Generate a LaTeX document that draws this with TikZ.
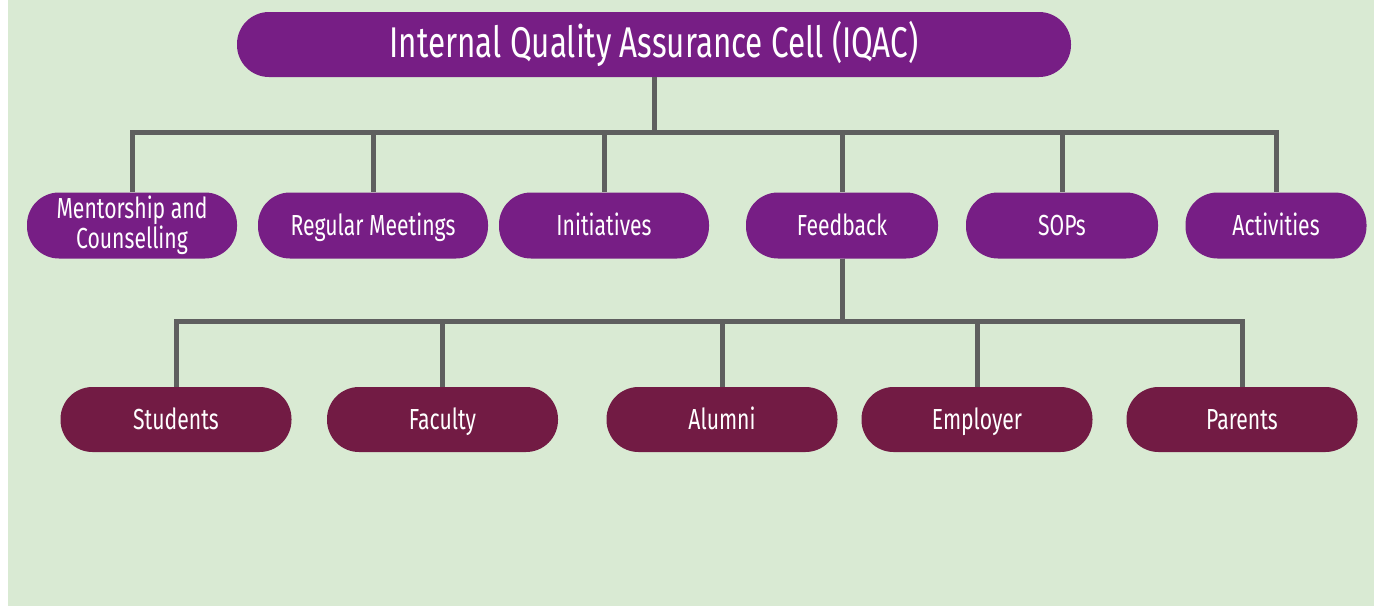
\documentclass[tikz,border=0pt]{standalone}
\usepackage{fontspec}
\setmainfont{Fira Sans}[FakeStretch=0.73]
\usepackage{tikz}
\usetikzlibrary{positioning}
\definecolor{bggreen}{HTML}{D9EAD3}
\definecolor{iqacpurple}{HTML}{771E85}
\definecolor{fbmaroon}{HTML}{721B44}
\definecolor{linkgray}{HTML}{5F5F5F}

\begin{document}
\begin{tikzpicture}[x=1pt,y=1pt,on grid,
    pill/.style = {fill=iqacpurple,text=white,rounded corners=32pt,minimum height=66pt,inner sep=0pt,align=center,
        font=\fontsize{29}{30}\selectfont,text height=20pt,text depth=0pt},
    sub/.style = {pill,fill=fbmaroon,minimum height=65pt,minimum width=231pt},
    link/.style = {draw=linkgray,line width=5pt,line join=miter}]
        % background
        \fill[white] (0,0) rectangle (1374,-606);
        \fill[bggreen] (8,0) rectangle (1374,-606);
        \useasboundingbox (0,0) rectangle (1374,-606);

        \node[pill,minimum width=834pt,minimum height=65pt,font=\fontsize{43}{48}\selectfont,text height=26.5pt] (iqac) at (654,-44.5) {Internal Quality Assurance Cell (IQAC)};
        \node[pill,minimum width=210pt,text height=46pt] (ment) at (132,-225.5) {Mentorship and\\Counselling};
        \node[pill,minimum width=230pt] (meet) [right=241pt of ment] {Regular Meetings};
        \node[pill,minimum width=210pt] (init) [right=231pt of meet] {Initiatives};
        \node[pill,minimum width=192pt] (feed) [right=238pt of init] {Feedback};
        \node[pill,minimum width=192pt] (sops) [right=220pt of feed] {SOPs};
        \node[pill,minimum width=181pt] (acti) [right=214pt of sops] {Activities};
        \node[sub] (alum) [below=194pt of feed,xshift=-120pt] {Alumni};
        \node[sub] (facu) [left=279.5pt of alum] {Faculty};
        \node[sub] (stud) [left=266.5pt of facu] {Students};
        \node[sub] (empl) [right=255pt of alum] {Employer};
        \node[sub] (pare) [right=265pt of empl] {Parents};

        \foreach \n in {ment,meet,init,feed,sops,acti}
            \draw[link] (iqac.south) -- ++(0,-55) -| (\n.north);
        \foreach \n in {stud,facu,alum,empl,pare}
            \draw[link] (feed.south) -- ++(0,-63) -| (\n.north);
\end{tikzpicture}
\end{document}
